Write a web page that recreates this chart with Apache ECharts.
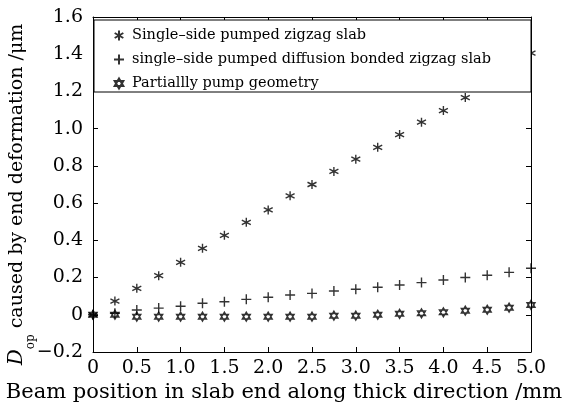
<!DOCTYPE html>
<html>
<head>
<meta charset="utf-8">
<script src="https://cdn.jsdelivr.net/npm/echarts@6/dist/echarts.min.js"></script>
<style>
  html, body { margin: 0; padding: 0; background: #fff; }
  #chart { width: 568px; height: 403px; }
</style>
</head>
<body>
<div id="chart"></div>
<script>
var positions = [0, 0.25, 0.5, 0.75, 1.0, 1.25, 1.5, 1.75, 2.0, 2.25, 2.5, 2.75, 3.0, 3.25, 3.5, 3.75, 4.0, 4.25, 4.5, 4.75, 5.0];
var zigzag = [0, 0.074, 0.142, 0.21, 0.282, 0.357, 0.427, 0.497, 0.563, 0.639, 0.70, 0.77, 0.836, 0.90, 0.968, 1.035, 1.097, 1.167, 1.235, 1.30, 1.406];
var bonded = [0, 0.008, 0.026, 0.036, 0.046, 0.062, 0.07, 0.083, 0.094, 0.106, 0.115, 0.128, 0.137, 0.148, 0.16, 0.173, 0.187, 0.2, 0.212, 0.228, 0.25];
var partial = [0, 0, -0.01, -0.01, -0.01, -0.01, -0.01, -0.01, -0.01, -0.01, -0.01, -0.005, -0.005, 0, 0.005, 0.008, 0.013, 0.022, 0.027, 0.038, 0.053];
var seriesNames = ['Single\u2013side pumped zigzag slab', 'single\u2013side pumped diffusion bonded zigzag slab', 'Partiallly pump geometry'];

var ink = '#000';
var serif = 'DejaVu Serif';

var asterisk = 'path://M0,-5L0,5M-4.33,-2.5L4.33,2.5M-4.33,2.5L4.33,-2.5';
var plus = 'path://M-5,0L5,0M0,-5L0,5';
var hexagram = 'path://M0,-5L4.33,2.5L-4.33,2.5ZM0,5L4.33,-2.5L-4.33,-2.5Z';

function pairs(ys) {
    return positions.map(function (x, i) { return [x, ys[i]]; });
}

function tickText(v) {
    if (v == 0) return '0';
    var s = Math.abs(v).toFixed(1);
    return v < 0 ? '\u2212' + s : s;
}

function markStyle() {
    return { color: 'transparent', borderColor: ink, borderWidth: 1.4 };
}

// frame axes: line + inward ticks, no labels
function frameAxis(pos, min, max, step) {
    return {
        type: 'value',
        position: pos,
        min: min, max: max, interval: step,
        axisLine: { show: true, onZero: false, lineStyle: { color: ink, width: 1 } },
        axisTick: { show: true, inside: true, length: 5, lineStyle: { color: ink } },
        axisLabel: { show: false },
        splitLine: { show: false }
    };
}

var myChart = echarts.init(document.getElementById('chart'));

var option = {
    animation: false,
    backgroundColor: '#fff',
    grid: { left: 93, right: 37, top: 17, bottom: 51, containLabel: false, outerBoundsMode: 'none' },
    graphic: [{
        type: 'rect',
        z: 3,
        shape: { x: 94, y: 20, width: 437, height: 72 },
        style: { fill: '#fff', stroke: ink, lineWidth: 1 }
    }],
    legend: {
        z: 5,
        orient: 'vertical',
        left: 108,
        top: 23,
        itemWidth: 10,
        itemHeight: 10,
        itemGap: 9,
        textStyle: { fontFamily: serif, fontSize: 14.5, color: ink, padding: [0, 0, 0, 3] },
        data: [
            { name: seriesNames[0], icon: asterisk },
            { name: seriesNames[1], icon: plus },
            { name: seriesNames[2], icon: hexagram }
        ]
    },
    xAxis: [{
        type: 'value',
        min: 0, max: 5, interval: 0.5,
        name: 'Beam position in slab end along thick direction /mm',
        nameLocation: 'middle',
        nameGap: 30,
        nameMoveOverlap: false,
        nameTextStyle: { fontFamily: serif, fontSize: 21, color: ink, padding: [0, 56, 0, 0] },
        axisLine: { onZero: false, lineStyle: { color: ink, width: 1 } },
        axisTick: { inside: true, length: 5, lineStyle: { color: ink } },
        axisLabel: { fontFamily: serif, fontSize: 19, color: ink, margin: 7, formatter: tickText },
        splitLine: { show: false }
    }, frameAxis('top', 0, 5, 0.5)],
    yAxis: [{
        type: 'value',
        min: -0.2, max: 1.6, interval: 0.2,
        name: '{i|D}{sub|op}{t| caused by end deformation /\u03bcm}',
        nameLocation: 'middle',
        nameGap: 56,
        nameMoveOverlap: false,
        nameTextStyle: {
            padding: [0, 20, 0, 0],
            rich: {
                i: { fontFamily: serif, fontSize: 20, fontStyle: 'italic', color: ink, lineHeight: 40, verticalAlign: 'middle' },
                sub: { fontFamily: serif, fontSize: 12, color: ink, lineHeight: 10, verticalAlign: 'bottom' },
                t: { fontFamily: serif, fontSize: 19, color: ink, lineHeight: 40, verticalAlign: 'middle' }
            }
        },
        axisLine: { show: true, onZero: false, lineStyle: { color: ink, width: 1 } },
        axisTick: { show: true, inside: true, length: 5, lineStyle: { color: ink } },
        axisLabel: { fontFamily: serif, fontSize: 19, color: ink, margin: 10, formatter: tickText },
        splitLine: { show: false }
    }, frameAxis('right', -0.2, 1.6, 0.2)],
    series: [{
        name: seriesNames[0],
        type: 'scatter',
        symbol: asterisk,
        symbolSize: 9,
        itemStyle: markStyle(),
        data: pairs(zigzag)
    }, {
        name: seriesNames[1],
        type: 'scatter',
        symbol: plus,
        symbolSize: 10,
        itemStyle: markStyle(),
        data: pairs(bonded)
    }, {
        name: seriesNames[2],
        type: 'scatter',
        symbol: hexagram,
        symbolSize: [8, 9],
        itemStyle: markStyle(),
        data: pairs(partial)
    }]
};

myChart.setOption(option);
</script>
</body>
</html>
